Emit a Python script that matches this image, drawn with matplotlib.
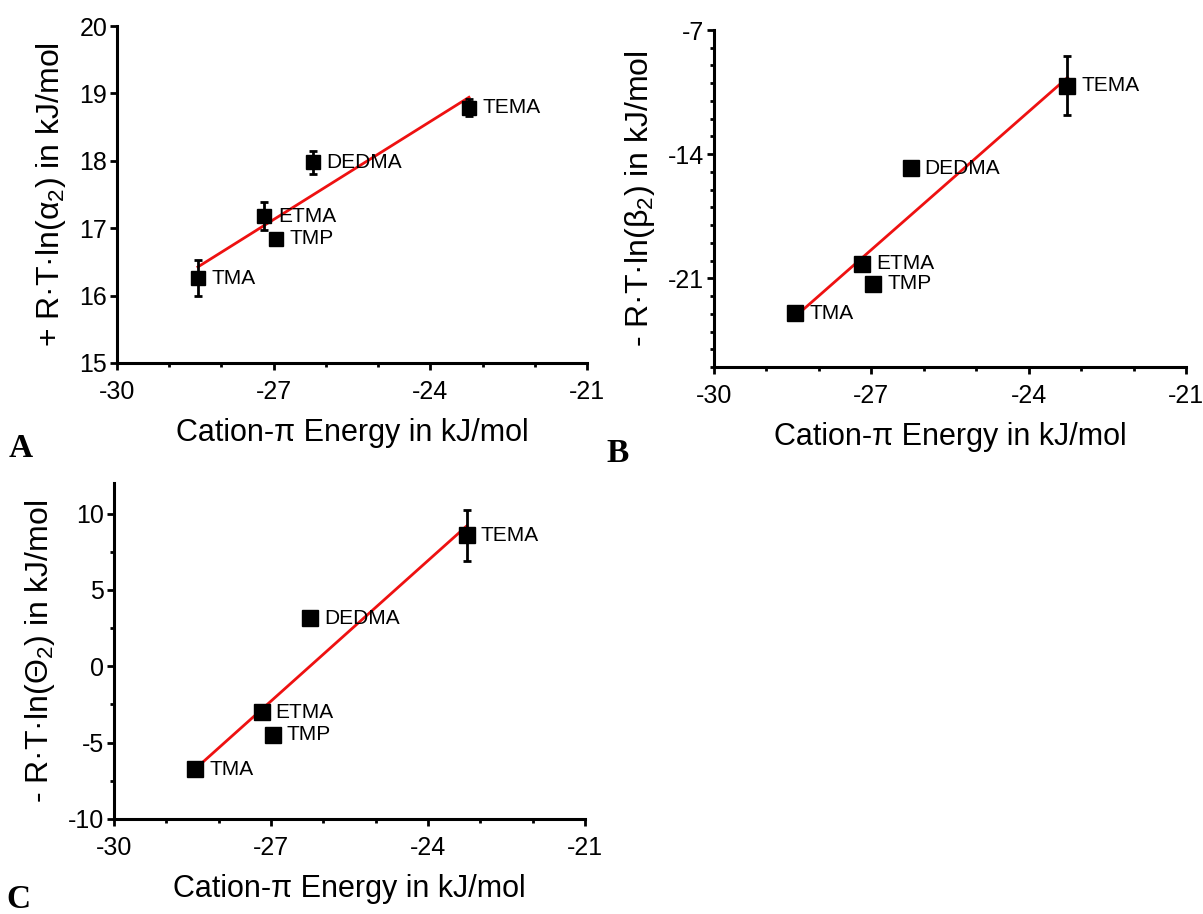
import numpy as np
import matplotlib
matplotlib.use("Agg")
import matplotlib.pyplot as plt
from matplotlib.ticker import MultipleLocator

plt.rcParams['font.family'] = ['Liberation Sans', 'DejaVu Sans']
plt.rcParams['mathtext.fontset'] = 'custom'
plt.rcParams['mathtext.rm'] = 'Liberation Sans'
plt.rcParams['mathtext.it'] = 'Liberation Sans:italic'
plt.rcParams['axes.unicode_minus'] = False

# data
cations = ["TMA", "ETMA", "TMP", "DEDMA", "TEMA"]
energy = [-28.45, -27.18, -26.96, -26.25, -23.26]

alpha2 = [16.26, 17.18, 16.84, 17.98, 18.79]
alpha2_err = [0.27, 0.21, 0.06, 0.17, 0.13]

beta2 = [-22.98, -20.19, -21.32, -14.79, -10.14]
beta2_err = [0.0, 0.0, 0.0, 0.0, 1.65]

theta2 = [-6.73, -3.01, -4.49, 3.14, 8.58]
theta2_err = [0.0, 0.0, 0.0, 0.0, 1.67]

W, H = 1203, 914


def panel(rect, y, yerr, ylim, ymajor, yminor, ylabel, msize):
    ax = fig.add_axes(rect)
    x = np.array(energy)
    y = np.array(y)
    k, b = np.polyfit(x, y, 1)
    xs = np.array([x.min(), x.max()])
    ax.plot(xs, k * xs + b, color='#ee1111', lw=2, zorder=2)
    ax.errorbar(x, y, yerr=yerr, fmt='s', color='black', ms=msize,
                elinewidth=2, capsize=3, capthick=2, zorder=3)
    for xi, yi, name in zip(x, y, cations):
        ax.annotate(name, (xi, yi), xytext=(10, 0), textcoords='offset points',
                    va='center', ha='left', fontsize=15)
    ax.set_xlim(-30, -21)
    ax.set_ylim(*ylim)
    ax.xaxis.set_major_locator(MultipleLocator(3))
    ax.xaxis.set_minor_locator(MultipleLocator(1))
    ax.yaxis.set_major_locator(MultipleLocator(ymajor))
    if yminor:
        ax.yaxis.set_minor_locator(MultipleLocator(yminor))
    for s in ['top', 'right']:
        ax.spines[s].set_visible(False)
    for s in ['left', 'bottom']:
        ax.spines[s].set_linewidth(2.2)
    ax.tick_params(which='major', direction='out', length=5, width=2,
                   labelsize=18, pad=2)
    ax.tick_params(axis='x', which='major', pad=7)
    ax.tick_params(which='minor', direction='out', length=3, width=2)
    ax.set_xlabel("Cation-π Energy in kJ/mol", fontsize=22, labelpad=10)
    ax.set_ylabel(ylabel, fontsize=23, labelpad=8)
    return ax


fig = plt.figure(figsize=(W / 100, H / 100), dpi=100)

panel([117 / W, 1 - 363 / H, 470 / W, 337 / H], alpha2, alpha2_err,
      (15, 20), 1, None, "+ R·T·ln(α$_2$) in kJ/mol", 10)
panel([714 / W, 1 - 367 / H, 472 / W, 337 / H], beta2, beta2_err,
      (-26, -7), 7, 1, "- R·T·ln(β$_2$) in kJ/mol", 12)
panel([114 / W, 1 - 819 / H, 471 / W, 336 / H], theta2, theta2_err,
      (-10, 12), 5, 2.5, "- R·T·ln(Θ$_2$) in kJ/mol", 12)

for lx, ly, letter in [(9, 457, "A"), (606, 462, "B"), (6, 908, "C")]:
    fig.text(lx / W, 1 - ly / H, letter, fontsize=24, fontweight='bold',
             family='Liberation Serif', ha='left', va='baseline')

fig.savefig("out.png", dpi=100)
